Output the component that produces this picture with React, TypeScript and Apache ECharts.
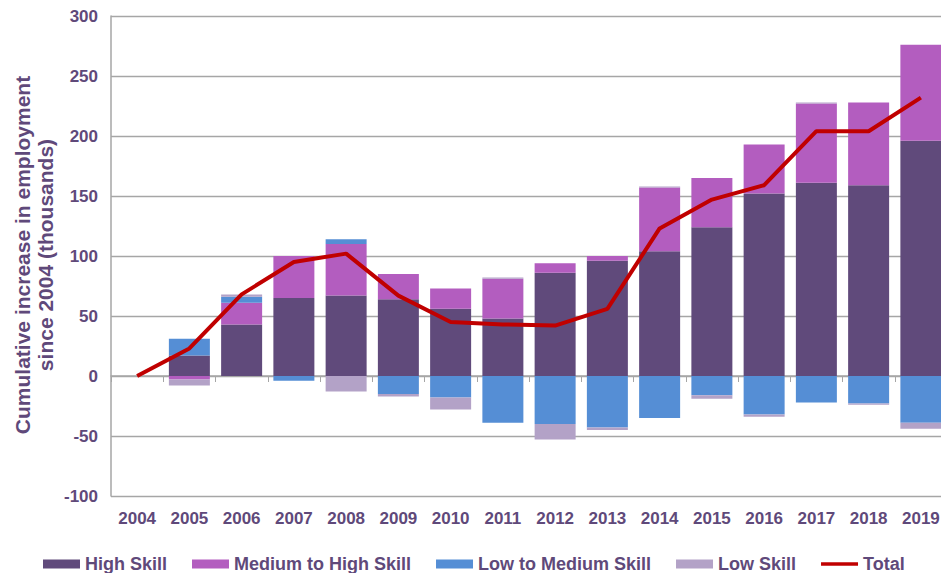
import React, { useEffect, useRef } from "react";
import * as echarts from "echarts";

const years = ["2004","2005","2006","2007","2008","2009","2010","2011","2012","2013","2014","2015","2016","2017","2018","2019"];
const highSkill = [null, 17, 43, 65, 67, 64, 56, 48, 86, 96, 104, 124, 152, 161, 159, 196];
const mediumHighSkill = [null, -3, 18, 35, 43, 21, 17, 33, 8, 4, 53, 41, 41, 66, 69, 80];
const lowMediumSkill = [null, 14, 5, -4, 4, -15, -18, -39, -40, -43, -35, -16, -32, -22, -23, -39];
const lowSkill = [null, -5, 2, null, -13, -2, -10, 1, -13, -2, 1, -3, -2, 1, -1, -5];
const total = [0, 23, 68, 95, 102, 67, 45, 43, 42, 56, 123, 147, 159, 204, 204, 232];

const yTitle = ["Cumulative increase in employment", "since 2004 (thousands)"];

const TEXT = "#5F497A";
const FONT = "'Liberation Sans', Arial, sans-serif";

export default function App() {
  const ref = useRef<HTMLDivElement>(null);
  useEffect(() => {
    if (!ref.current) return;
    const chart = echarts.init(ref.current, undefined, { renderer: "svg" });
    const barBase = { type: "bar", stack: "s", barWidth: 41, xAxisIndex: 0, yAxisIndex: 0 };
    chart.setOption({
      animation: false,
      grid: { left: 111, top: 16, width: 836, bottom: 77, containLabel: false },
      legend: {
        left: 38,
        top: 550,
        itemWidth: 37,
        itemHeight: 9,
        itemGap: 25,
        selectedMode: false,
        textStyle: { color: TEXT, fontFamily: FONT, fontWeight: "bold", fontSize: 18 },
        data: [
          { name: "High Skill", icon: "rect" },
          { name: "Medium to High Skill", icon: "rect" },
          { name: "Low to Medium Skill", icon: "rect" },
          { name: "Low Skill", icon: "rect" },
          { name: "Total", icon: "path://M0,0 H37 V3.5 H0 Z", itemStyle: { color: "#C00000" } },
        ],
      },
      xAxis: [
        {
          type: "category",
          data: years,
          axisLine: { onZero: true, lineStyle: { color: "#A6A6A6", width: 1.5 } },
          axisTick: { show: true, interval: 0, length: 6, lineStyle: { color: "#A6A6A6" } },
          axisLabel: { show: false },
        },
        {
          type: "category",
          data: years,
          position: "bottom",
          axisLine: { show: false, onZero: false },
          axisTick: { show: false },
          axisLabel: { color: TEXT, fontFamily: FONT, fontWeight: "bold", fontSize: 17, margin: 14, interval: 0 },
        },
      ],
      yAxis: {
        type: "value",
        min: -100,
        max: 300,
        interval: 50,
        axisLine: { show: true, lineStyle: { color: "#A6A6A6", width: 1.5 } },
        axisTick: { show: false },
        splitLine: { lineStyle: { color: "#A6A6A6", width: 1.3 } },
        axisLabel: { color: TEXT, fontFamily: FONT, fontWeight: "bold", fontSize: 17, margin: 13 },
      },
      graphic: [
        {
          type: "text",
          x: 34,
          y: 255,
          rotation: Math.PI / 2,
          style: {
            text: yTitle.join("\n"),
            fill: TEXT,
            font: `bold 21px ${FONT}`,
            align: "center",
            verticalAlign: "middle",
            lineHeight: 23,
          },
        },
      ],
      series: [
        { ...barBase, name: "High Skill", data: highSkill, itemStyle: { color: "#604A7B" } },
        { ...barBase, name: "Medium to High Skill", data: mediumHighSkill, itemStyle: { color: "#B35DBF" } },
        { ...barBase, name: "Low to Medium Skill", data: lowMediumSkill, itemStyle: { color: "#558ED5" } },
        { ...barBase, name: "Low Skill", data: lowSkill, itemStyle: { color: "#B3A2C7" } },
        {
          type: "line",
          name: "Total",
          data: total,
          symbol: "none",
          lineStyle: { color: "#C00000", width: 4 },
          itemStyle: { color: "#C00000" },
          z: 5,
        },
      ],
    });
    return () => chart.dispose();
  }, []);
  return (
    <div style={{ width: 941, height: 573, position: "absolute", left: 0, top: 0, overflow: "hidden" }}>
      <div ref={ref} style={{ width: 948, height: 573 }} />
    </div>
  );
}
